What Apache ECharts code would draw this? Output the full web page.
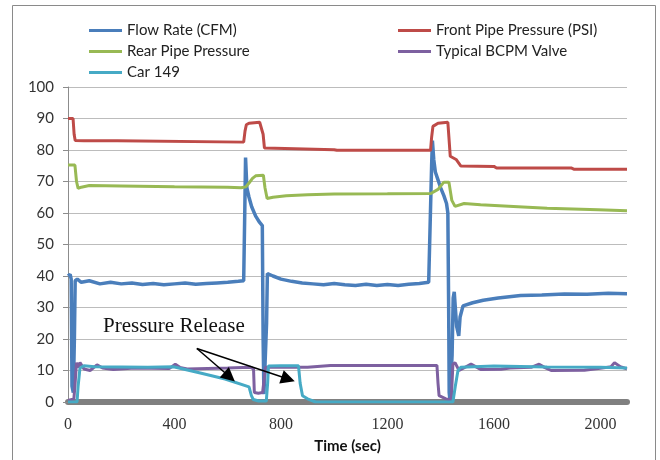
<!DOCTYPE html>
<html>
<head>
<meta charset="utf-8">
<script src="https://cdn.jsdelivr.net/npm/echarts@6/dist/echarts.min.js"></script>
<style>
  html, body { margin: 0; padding: 0; background: #fff; }
  #chart { width: 660px; height: 460px; }
</style>
</head>
<body>
<div id="chart"></div>
<script>
// time (sec), value pairs
var flowRate = [
  [0, 40], [8, 40.5], [12, 39], [15, 5], [20, 3], [24, 20], [27, 38.5], [35, 39], [50, 38],
  [80, 38.5], [120, 37.5], [160, 38], [200, 37.5], [240, 37.8], [280, 37.3], [320, 37.6],
  [360, 37.2], [400, 37.5], [440, 37.8], [480, 37.4], [520, 37.6], [560, 37.8], [600, 38],
  [640, 38.3], [660, 38.5], [664, 60], [667, 77.6], [672, 68], [680, 65], [690, 62],
  [705, 59], [720, 57], [730, 56], [733, 20], [736, 2.5], [742, 2.5], [746, 25], [749, 40.8],
  [770, 40], [800, 39], [840, 38.3], [880, 37.8], [920, 37.5], [960, 37.2], [1000, 37.6],
  [1040, 37.2], [1080, 37], [1120, 37.4], [1160, 37], [1200, 37.3], [1240, 37], [1280, 37.4],
  [1320, 37.6], [1355, 38], [1362, 38.5], [1366, 75], [1369, 83], [1374, 77], [1380, 73],
  [1390, 70.5], [1400, 68], [1412, 65.5], [1422, 63], [1427, 60], [1430, 30], [1432, 3],
  [1435, 0.5], [1440, 0.5], [1443, 15], [1447, 33], [1451, 35], [1455, 30], [1460, 24],
  [1468, 21], [1473, 27], [1484, 30.5], [1520, 31.5], [1560, 32.3], [1616, 33], [1700, 33.8],
  [1780, 34], [1865, 34.3], [1950, 34.2], [2030, 34.5], [2100, 34.4]
];
var frontPipe = [
  [0, 90], [19, 90], [23, 85], [27, 83], [60, 82.9], [185, 82.9], [190, 82.5], [660, 82.5],
  [665, 86], [670, 88], [680, 88.5], [720, 88.8], [727, 89], [733, 85], [738, 80.6],
  [815, 80.5], [820, 80.1], [1000, 80.1], [1010, 79.9], [1362, 79.9], [1366, 84], [1371, 87.5],
  [1390, 88.5], [1427, 88.8], [1431, 84], [1436, 78], [1442, 77.4], [1458, 77], [1476, 74.9],
  [1600, 74.8], [1610, 74.3], [1890, 74.3], [1900, 73.9], [2100, 73.9]
];
var rearPipe = [
  [0, 75.2], [26, 75.2], [32, 70], [38, 67.8], [50, 68.2], [80, 68.7], [200, 68.6],
  [400, 68.3], [600, 68.2], [650, 68], [668, 68.3], [680, 69.5], [693, 71], [705, 71.8],
  [734, 72], [740, 68], [748, 64.6], [770, 65], [820, 65.5], [900, 65.8], [1000, 66],
  [1200, 66.1], [1363, 66.2], [1390, 67.5], [1412, 69.8], [1431, 69.8], [1442, 64],
  [1454, 62.1], [1488, 63], [1550, 62.6], [1691, 62], [1800, 61.5], [1992, 61], [2100, 60.7]
];
var bcpmValve = [
  [0, 0.5], [22, 1], [26, 5], [32, 12.5], [38, 11], [45, 12.5], [60, 10.5], [83, 10],
  [109, 11.8], [130, 10.8], [170, 10.3], [250, 10.8], [380, 10.6], [403, 12], [420, 11],
  [448, 10.5], [600, 10.8], [686, 11], [697, 10.5], [700, 3], [715, 2.8], [731, 3],
  [742, 11], [760, 11], [900, 11], [986, 11.6], [1386, 11.6], [1390, 6], [1394, 2],
  [1420, 1], [1431, 0.8], [1440, 1], [1446, 12], [1454, 12.5], [1469, 10], [1514, 12],
  [1552, 10.3], [1627, 10.4], [1660, 10.8], [1740, 11], [1770, 12], [1790, 11], [1815, 10],
  [1940, 10.1], [1992, 10.6], [2040, 11.2], [2053, 12.5], [2075, 11.2], [2100, 10.5]
];
var car149 = [
  [0, 0], [34, 0], [38, 5], [45, 10.8], [60, 11.5], [100, 11.2], [200, 11.1], [300, 11],
  [396, 11.2], [497, 9.2], [590, 7.3], [680, 4.8], [689, 2], [696, 0.8], [716, 0.3],
  [745, 0.3], [750, 6], [753, 11.4], [800, 11.5], [866, 11.5], [872, 6], [881, 2],
  [900, 1], [930, 0], [1446, 0], [1455, 5], [1465, 10], [1475, 11], [1600, 11.4],
  [1800, 11.1], [2000, 11], [2100, 10.8]
];

var xTicks = [0, 400, 800, 1200, 1600, 2000];
// "Pressure Release" arrows: shared tail, and the centre of each arrow head
var arrowStart = [484, 17];
var arrowEnds = [[607, 8.0], [827, 7.3]];

var chart = echarts.init(document.getElementById('chart'));

var sansFont = 'Lato, "Open Sans", sans-serif';

function line (name, data, color, width) {
  return {
    name: name,
    type: 'line',
    data: data,
    showSymbol: false,
    symbol: 'none',
    animation: false,
    color: color,
    lineStyle: { width: width, color: color }
  };
}

var series = [
  line('Flow Rate (CFM)', flowRate, '#4a7ebb', 3.5),
  line('Front Pipe Pressure (PSI)', frontPipe, '#be4b48', 3),
  line('Rear Pipe Pressure', rearPipe, '#98b954', 3),
  line('Typical BCPM Valve', bcpmValve, '#7d60a0', 3),
  line('Car 149', car149, '#46aac5', 3)
];

series[4].markLine = {
  silent: true,
  animation: false,
  symbol: ['none', 'triangle'],
  symbolSize: 14,
  itemStyle: { color: '#000' },
  lineStyle: { color: '#000', width: 1.5, type: 'solid' },
  label: { show: false },
  data: arrowEnds.map(function (end) {
    return [{ coord: arrowStart }, { coord: end }];
  })
};

var legendText = { fontFamily: sansFont, fontSize: 15, color: '#222', lineHeight: 21 };

var option = {
  backgroundColor: '#fff',
  animation: false,
  grid: { left: 68, right: 33, top: 87, bottom: 58 },
  legend: [
    {
      left: 84, top: 15, orient: 'vertical', icon: 'rect',
      itemWidth: 33, itemHeight: 3, itemGap: 0,
      textStyle: legendText,
      data: ['Flow Rate (CFM)', 'Rear Pipe Pressure', 'Car 149']
    },
    {
      left: 393, top: 15, orient: 'vertical', icon: 'rect',
      itemWidth: 33, itemHeight: 3, itemGap: 0,
      textStyle: legendText,
      data: ['Front Pipe Pressure (PSI)', 'Typical BCPM Valve']
    }
  ],
  xAxis: {
    type: 'value',
    min: 0,
    max: 2100,
    interval: 400,
    offset: 3,
    name: 'Time (sec)',
    nameLocation: 'middle',
    nameGap: 34,
    nameTextStyle: { fontFamily: sansFont, fontSize: 15, fontWeight: 'bold', color: '#111' },
    axisLine: { show: true, lineStyle: { color: '#808080', width: 6 } },
    axisTick: { show: false },
    splitLine: { show: false },
    axisLabel: {
      margin: 12,
      showMaxLabel: false,
      fontFamily: '"Liberation Serif", "DejaVu Serif", serif',
      fontSize: 16,
      color: '#333',
      formatter: function (v) { return xTicks.indexOf(v) >= 0 ? String(v) : ''; }
    }
  },
  yAxis: {
    type: 'value',
    min: 0,
    max: 100,
    interval: 10,
    axisLine: { show: true, lineStyle: { color: '#8c8c8c', width: 1 } },
    axisTick: { show: true, length: 5, lineStyle: { color: '#8c8c8c' } },
    splitLine: { show: true, lineStyle: { color: '#bcbcbc', width: 1.2 } },
    axisLabel: { margin: 14, fontFamily: sansFont, fontSize: 15, color: '#333' }
  },
  graphic: [
    {
      type: 'rect',
      shape: { x: 12.5, y: 5.5, width: 643, height: 470 },
      style: { fill: 'none', stroke: '#8a8a8a', lineWidth: 1 },
      z: -10
    },
    {
      type: 'text',
      left: 103,
      top: 316,
      style: {
        text: 'Pressure Release',
        font: '21px "Liberation Serif", "DejaVu Serif", serif',
        fill: '#111'
      },
      z: 10
    }
  ],
  series: series
};

chart.setOption(option);
</script>
</body>
</html>
